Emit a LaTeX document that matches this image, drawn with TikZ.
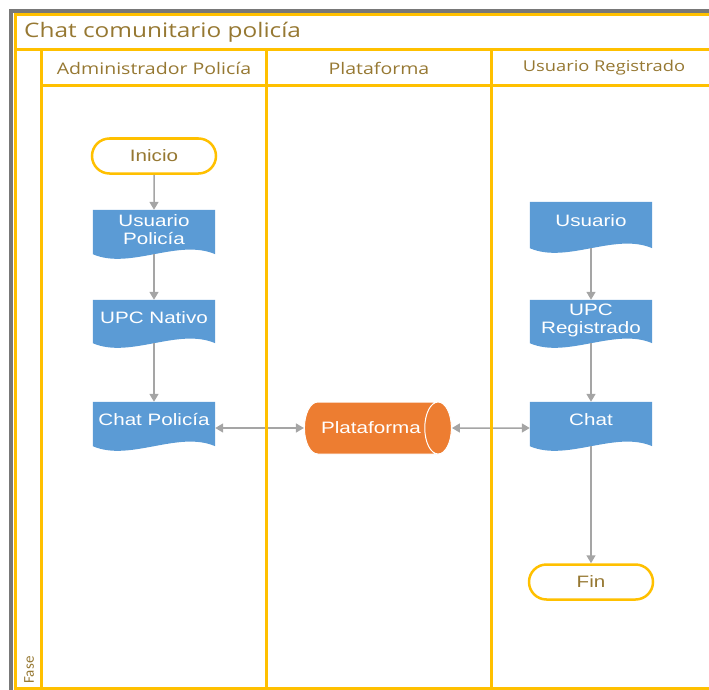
\documentclass[tikz,border=0pt]{standalone}
\usepackage{fontspec}
\usetikzlibrary{arrows.meta,shapes.misc,shapes.geometric,calc,backgrounds}
\newfontfamily\nodefont[FakeStretch=1.25]{Liberation Sans}
\newfontfamily\headfont[FakeStretch=1.22]{Open Sans}
\newfontfamily\phasefont{Carlito}
\definecolor{laneyellow}{HTML}{FFC000}
\definecolor{docblue}{HTML}{5B9BD5}
\definecolor{dborange}{HTML}{ED7D31}
\definecolor{goldtext}{RGB}{150,120,50}
\definecolor{arrowgray}{RGB}{165,165,165}
\definecolor{shadowgray}{RGB}{120,120,120}

% document symbol: flat top, wavy bottom, filled behind the node text
\newcommand\docfill[1]{%
  \fill[docblue] (#1.north west) -- (#1.north east) -- (#1.south east)
    .. controls ($(#1.south east)+(-37,-16)$) and ($(#1.south west)+(37,16)$) .. (#1.south west) -- cycle;}

\tikzset{
  lane/.style={draw=laneyellow, line width=3pt},
  terminal/.style={rounded rectangle, draw=laneyellow, line width=2.5pt, fill=white,
    minimum width=124pt, minimum height=35pt, inner sep=0pt,
    font=\nodefont\fontsize{16.5}{19}\selectfont, text=goldtext},
  docnode/.style={rectangle, minimum width=122pt, inner sep=0pt},
  doctext/.style={text=white, align=center, inner sep=0pt,
    font=\nodefont\fontsize{16.5}{18}\selectfont},
  flow/.style={draw=arrowgray, line width=1.5pt, -{Triangle[width=9pt,length=8pt]}},
  flowboth/.style={draw=arrowgray, line width=1.5pt,
    {Triangle[width=9pt,length=8pt]}-{Triangle[width=9pt,length=8pt]}},
  headtext/.style={text=goldtext, inner sep=0pt},
}

\begin{document}
\begin{tikzpicture}[x=1pt, y=-1pt]
\useasboundingbox (0,0) rectangle (709,690);

% nodes of the Administrador Policía lane
\node[terminal] (inicio) at (154,156) {Inicio};
\node[docnode, minimum height=44pt, label={[doctext, yshift=2pt]center:Usuario\\Policía}] (upol) at (154,232) {};
\node[docnode, minimum height=43pt, label={[doctext, yshift=4pt]center:UPC Nativo}] (upcn) at (154,321.5) {};
\node[docnode, minimum height=44pt, label={[doctext, yshift=4pt]center:Chat Policía}] (cpol) at (154,424) {};

% platform store
\node[cylinder, shape border rotate=0, aspect=2.2, minimum height=147pt, minimum width=52pt,
  cylinder uses custom fill, cylinder body fill=dborange, cylinder end fill=dborange,
  draw=white, line width=1pt, text=white, inner sep=0pt,
  font=\nodefont\fontsize{16.5}{19}\selectfont] (plat) at (371,428) {Plataforma};

% nodes of the Usuario Registrado lane
\node[docnode, minimum height=46pt, label={[doctext, yshift=4pt]center:Usuario}] (usu) at (591,225) {};
\node[docnode, minimum height=43pt, label={[doctext, yshift=1pt]center:UPC\\Registrado}] (upcr) at (591,321.5) {};
\node[docnode, minimum height=44pt, label={[doctext, yshift=4pt]center:Chat}] (chat) at (591,424) {};
\node[terminal] (fin) at (591,582) {Fin};

\begin{pgfonlayer}{background}
  \docfill{upol}\docfill{upcn}\docfill{cpol}
  \docfill{usu}\docfill{upcr}\docfill{chat}
\end{pgfonlayer}

% connectors
\draw[flow] (inicio) -- (upol);
\draw[flow] (upol.south) -- (upcn.north);
\draw[flow] (upcn.south) -- (cpol.north);
\draw[flowboth] (cpol.east |- plat.center) -- (plat.west);
\draw[flowboth] (plat.east) -- (chat.west |- plat.center);
\draw[flow] (usu.south) -- (upcr.north);
\draw[flow] (upcr.south) -- (chat.north);
\draw[flow] (chat.south) -- (fin.north);

% pool frame with its shadow
\fill[shadowgray] (9,9) rectangle (709,13);
\fill[shadowgray] (9,9) rectangle (13,690);
\draw[lane] (14,14.5) -- (709,14.5);
\draw[lane] (15.5,14) -- (15.5,690);
\draw[lane] (14,688.5) -- (709,688.5);
\draw[lane] (14,50) -- (709,50);
\draw[lane] (41.5,50) -- (41.5,690);
\draw[lane] (41.5,86) -- (709,86);
\draw[lane] (266,50) -- (266,690);
\draw[lane] (491.5,50) -- (491.5,690);

% pool title, lane headers and phase label
\node[headtext, anchor=west, font=\headfont\fontsize{20}{24}\selectfont] (title) at (24,32) {Chat comunitario policía};
\node[headtext, font=\headfont\fontsize{16}{19}\selectfont] (hadmin) at (154,68) {Administrador Policía};
\node[headtext, font=\headfont\fontsize{16}{19}\selectfont] (hplat) at (379,68) {Plataforma};
\node[headtext, font=\headfont\fontsize{15}{18}\selectfont] (husr) at (604,68) {Usuario Registrado};
\node[headtext, rotate=90, font=\phasefont\fontsize{15}{18}\selectfont] (fase) at (29,670) {Fase};
\end{tikzpicture}
\end{document}
